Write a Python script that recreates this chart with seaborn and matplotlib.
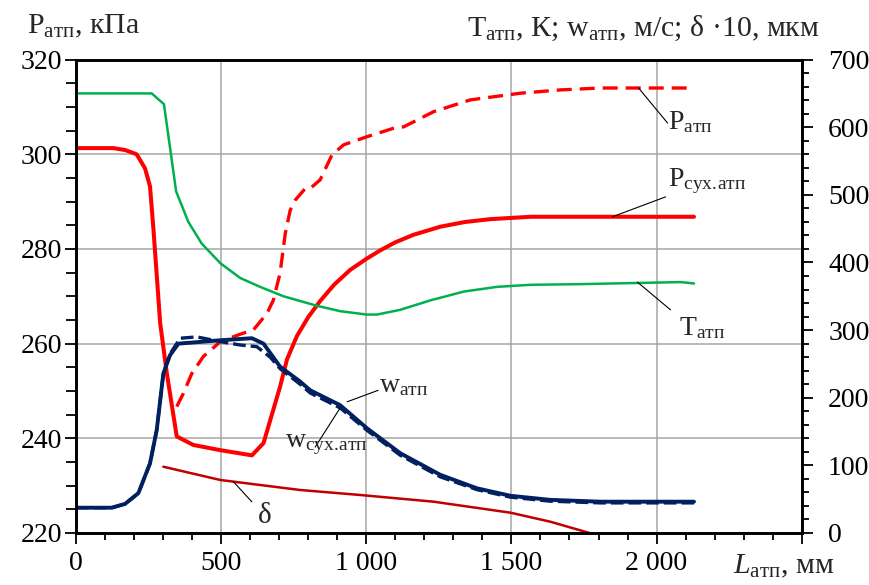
import matplotlib
matplotlib.use("Agg")
import matplotlib.pyplot as plt
from matplotlib.ticker import MultipleLocator
import seaborn as sns

# ---------------- data ----------------
# P_атп (dashed red, left axis, kPa)
L_p_atp = [347, 370, 399, 439, 497, 566, 611, 658, 680, 703, 721, 738, 755, 790, 807,
           841, 882, 922, 1002, 1094, 1129, 1232, 1359, 1531, 1669, 1807, 2129]
P_atp = [246.7, 249.5, 253.7, 257.3, 260.4, 262.0, 262.9, 266.4, 269.2, 274.9, 283.3,
         288.2, 290.3, 292.8, 292.8, 294.6, 299.9, 302.0, 303.7, 305.5, 305.8, 309.0,
         311.5, 312.9, 313.6, 314.0, 314.0]

# P_сух.атп (solid red, left axis, kPa)
L_p_dry = [0, 129, 169, 209, 238, 255, 267, 290, 313, 347, 404, 497, 606, 646, 669, 703,
           727, 761, 800, 841, 890, 945, 1000, 1048, 1100, 1163, 1255, 1340, 1428, 1566,
           2129]
P_dry = [301.3, 301.3, 300.9, 300.0, 297.0, 293.2, 284.0, 264.3, 253.7, 240.4, 238.6,
         237.5, 236.4, 239.0, 243.8, 250.9, 256.7, 261.6, 265.6, 269.0, 272.5, 275.6,
         277.9, 279.7, 281.4, 283.0, 284.7, 285.7, 286.3, 286.8, 286.8]

# T_атп (green, right axis, K)
L_T = [0, 261, 303, 345, 387, 433, 497, 566, 634, 715, 830, 910, 1002, 1037, 1117, 1221,
       1336, 1451, 1566, 1738, 1853, 2083, 2129]
T_atp = [650, 650, 634, 505, 460, 428, 399, 377, 364, 350, 336, 328, 323, 323, 330, 344,
         357, 364, 367, 368, 369, 371, 369]

# w_атп (solid navy, right axis, m/s)
L_w = [0, 123, 169, 215, 255, 278, 301, 324, 353, 497, 606, 646, 703, 772, 807, 910,
       1002, 1117, 1255, 1382, 1497, 1634, 1807, 2129]
w_atp = [37.4, 37.4, 43, 59, 103, 152, 236, 263, 280, 285, 288, 280, 246, 224, 211, 189,
         155, 118, 86, 66, 55, 49, 46.3, 46.3]

# w_сух.атп (dashed navy, right axis, m/s)
L_w_dry = [0, 123, 169, 215, 255, 278, 301, 324, 359, 416, 497, 566, 623, 669, 703, 772,
           807, 910, 1002, 1117, 1255, 1382, 1497, 1634, 1807, 2129]
w_dry = [37.4, 37.4, 43, 59, 103, 152, 236, 265, 288, 290, 283, 278, 275.5, 260, 243,
         220, 207, 185, 152, 115, 83, 64, 53, 47, 44.5, 44.5]

# δ·10 (dark red, right axis, µm)
L_delta = [301, 497, 634, 772, 979, 1232, 1497, 1634, 1761, 1800]
delta10 = [98, 78.4, 71, 63.6, 56.2, 46.3, 30, 16.7, 1, -4]

x_ticks = [0, 500, 1000, 1500, 2000, 2500]
x_tick_labels = ["0", "500", "1 000", "1 500", "2 000", ""]
yl_ticks = [220, 240, 260, 280, 300, 320]
yr_ticks = [0, 100, 200, 300, 400, 500, 600, 700]

# ---------------- style ----------------
sns.set_theme(style="ticks")
plt.rcParams['font.family'] = ['Liberation Serif', 'DejaVu Serif']
plt.rcParams['mathtext.fontset'] = 'custom'
plt.rcParams['mathtext.rm'] = 'Liberation Serif'
plt.rcParams['mathtext.it'] = 'Liberation Serif:italic'
plt.rcParams['mathtext.bf'] = 'Liberation Serif:bold'

W, H = 869, 585
fig = plt.figure(figsize=(W / 100, H / 100), dpi=100)
fig.patch.set_facecolor('white')
ax = fig.add_axes([76 / W, 1 - 533 / H, (801.7 - 76) / W, (533 - 59.6) / H])
ax2 = ax.twinx()

RED = '#FF0000'
GREEN = '#00B050'
NAVY = '#002060'
DRED = '#C00000'

# left axis lines
sns.lineplot(x=L_p_dry, y=P_dry, ax=ax, color=RED, linewidth=2.9,
             estimator=None, sort=False)
sns.lineplot(x=L_p_atp, y=P_atp, ax=ax, color=RED, linewidth=2.4,
             linestyle=(0, (4.5, 2.4)), estimator=None, sort=False)

# right axis lines
sns.lineplot(x=L_T, y=T_atp, ax=ax2, color=GREEN, linewidth=1.8,
             estimator=None, sort=False)
sns.lineplot(x=L_delta, y=delta10, ax=ax2, color=DRED, linewidth=1.8,
             estimator=None, sort=False)
sns.lineplot(x=L_w_dry, y=w_dry, ax=ax2, color=NAVY, linewidth=2.4,
             linestyle=(0, (3.8, 1.5)), estimator=None, sort=False)
sns.lineplot(x=L_w, y=w_atp, ax=ax2, color=NAVY, linewidth=2.8,
             estimator=None, sort=False)

# axes limits / ticks
ax.set_xlim(0, 2500)
ax.set_ylim(220, 320)
ax2.set_ylim(0, 700)
ax.set_xticks(x_ticks)
ax.set_xticklabels(x_tick_labels)
ax.xaxis.set_minor_locator(MultipleLocator(100))
ax.set_yticks(yl_ticks)
ax.set_yticklabels([str(v) for v in yl_ticks])
ax.yaxis.set_minor_locator(MultipleLocator(5))
ax2.set_yticks(yr_ticks)
ax2.set_yticklabels([str(v) for v in yr_ticks])
ax2.yaxis.set_minor_locator(MultipleLocator(20))

ax.grid(True, which='major', color='#A6A6A6', linewidth=1.1)
ax2.grid(False)
ax.set_axisbelow(True)
ax.set_xlabel('')
ax.set_ylabel('')
ax2.set_ylabel('')

for a in (ax, ax2):
    for s in a.spines.values():
        s.set_color('black')
        s.set_linewidth(1.9)
        s.set_visible(True)

TS = 20
ax.tick_params(axis='x', which='major', direction='out', length=8, width=1.3,
               colors='black', labelsize=TS, pad=5, bottom=True, top=False)
ax.tick_params(axis='x', which='minor', direction='out', length=5, width=1.3,
               colors='black', bottom=True, top=False)
ax.tick_params(axis='y', which='major', direction='out', length=8, width=1.3,
               colors='black', labelsize=TS, pad=2, left=True, right=False)
ax.tick_params(axis='y', which='minor', direction='out', length=7, width=1.3,
               colors='black', left=True, right=False)
ax2.tick_params(axis='y', which='major', direction='out', length=8, width=1.3,
                colors='black', labelsize=TS, pad=11, right=True, left=False)
ax2.tick_params(axis='y', which='minor', direction='out', length=5, width=1.3,
                colors='black', right=True, left=False)

# ---------------- annotations ----------------
FS = 20
FT = 21.5
lead = dict(arrowstyle='-', color='black', lw=0.8, shrinkA=0, shrinkB=0)

# P_атп
ax.annotate('', xy=(1938, 314.0), xytext=(2038, 306.6), arrowprops=lead)
ax.text(2041, 305.3, r'$\mathrm{P}_{\mathrm{атп}}$', fontsize=FS, ha='left', va='baseline')
# P_сух.атп
ax.annotate('', xy=(1848, 286.8), xytext=(2031, 291.0), arrowprops=lead)
ax.text(2041, 293.3, r'$\mathrm{P}_{\mathrm{сух.\!атп}}$', fontsize=FS, ha='left',
        va='baseline')
# T_атп
ax2.annotate('', xy=(1934, 371), xytext=(2048, 330), arrowprops=lead)
ax2.text(2076, 293, r'$\mathrm{T}_{\mathrm{атп}}$', fontsize=FS, ha='left', va='baseline')
# w_атп
ax2.annotate('', xy=(934, 194), xytext=(1041, 211), arrowprops=lead)
ax2.text(1045, 208, r'$\mathrm{w}_{\mathrm{атп}}$', fontsize=FS, ha='left', va='baseline')
# w_сух.атп
ax2.annotate('', xy=(910, 185), xytext=(824, 127), arrowprops=lead)
ax2.text(721, 127, r'$\mathrm{w}_{\mathrm{сух.\!атп}}$', fontsize=FS, ha='left',
         va='baseline')
# δ
ax2.annotate('', xy=(542, 76), xytext=(606, 46), arrowprops=lead)
ax2.text(628, 15, 'δ', fontsize=FS + 1, ha='left', va='baseline')

# axis titles
fig.text(27 / W, 1 - 33 / H, r'$\mathrm{P}_{\mathrm{атп}}$, кПа', fontsize=FT,
         ha='left', va='baseline')
fig.text(820 / W, 1 - 36 / H,
         r'$\mathrm{T}_{\mathrm{атп}}$, К; $\mathrm{w}_{\mathrm{атп}}$, м/с; δ ·10, мкм',
         fontsize=FT, ha='right', va='baseline')
fig.text(733 / W, 1 - 573 / H, r'$L_{\mathrm{атп}}$, мм', fontsize=FT,
         ha='left', va='baseline')

fig.savefig('out.png', dpi=100, facecolor='white')
